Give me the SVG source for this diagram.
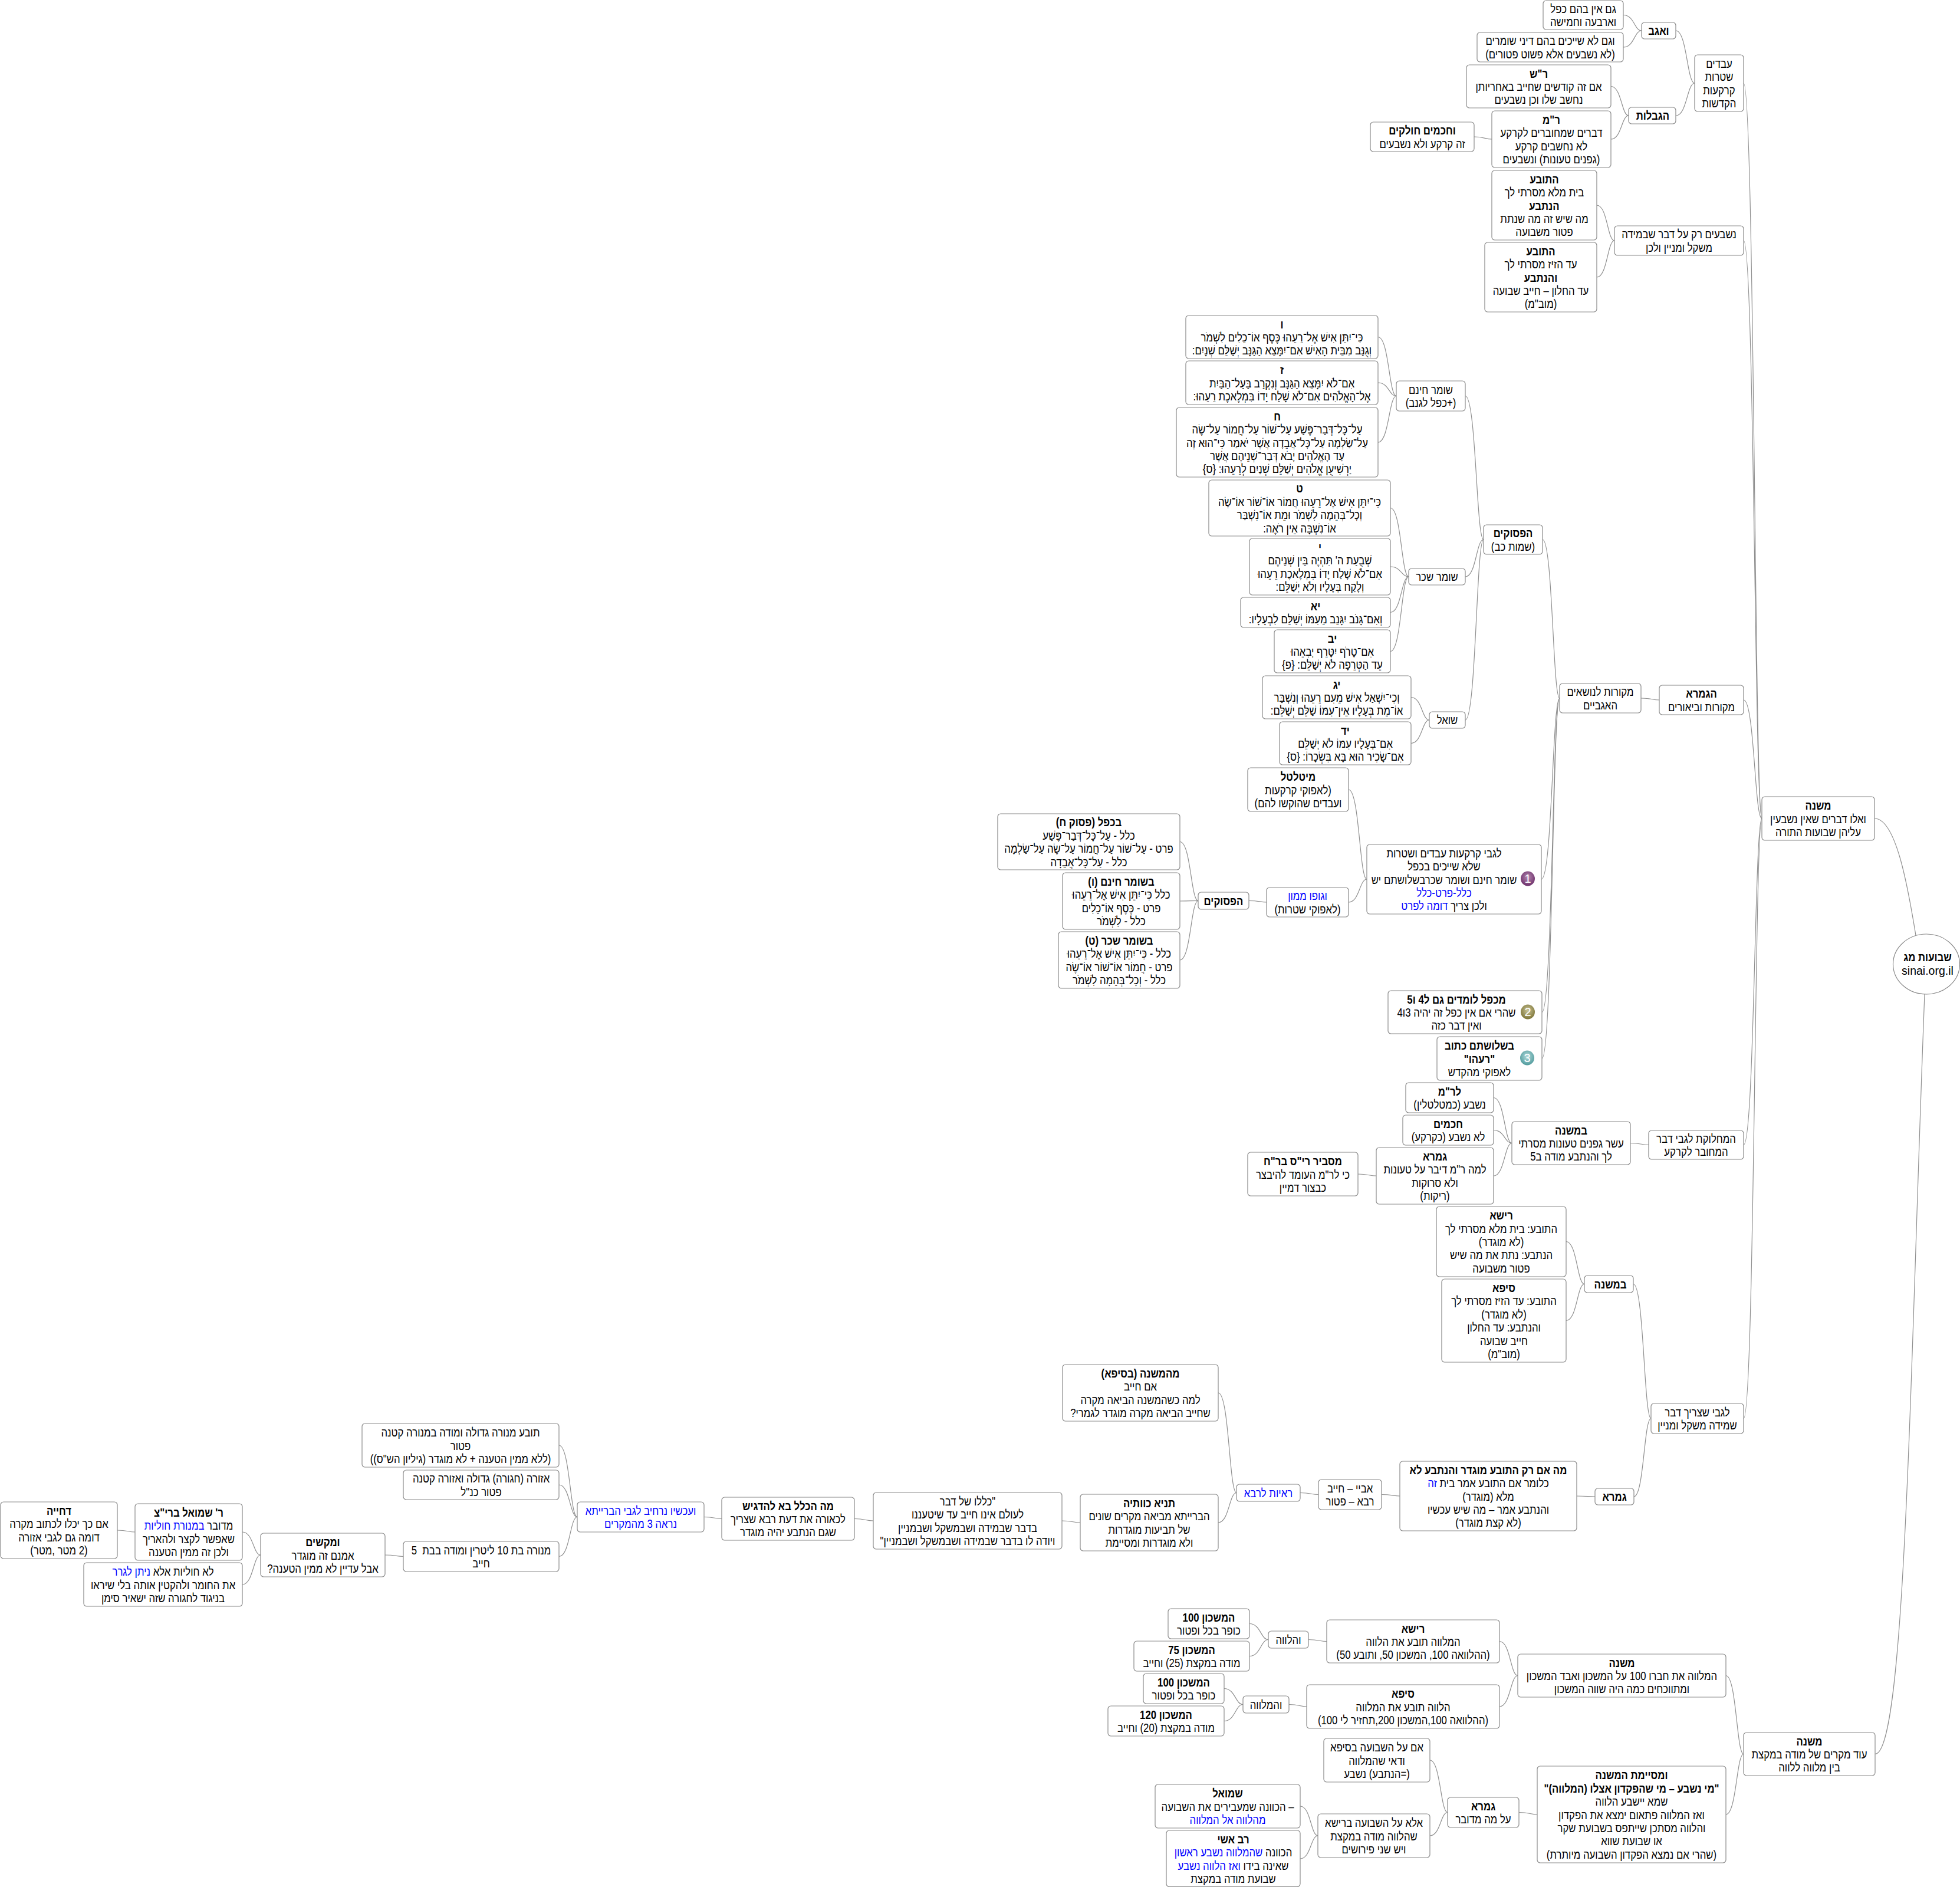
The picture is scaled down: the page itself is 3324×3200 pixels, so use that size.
<svg xmlns="http://www.w3.org/2000/svg" width="3324" height="3200" viewBox="0 0 3324 3200">
<style>
rect.bg{fill:#fff}
.n rect,.n ellipse.o{fill:#fff;stroke:#8a8a8a;stroke-width:1.2}
#c path{fill:none;stroke:#8f8f8f;stroke-width:1.2}
text{font-family:"Liberation Sans",Arial,sans-serif;font-size:19.5px;fill:#000;text-anchor:middle;direction:rtl;transform-box:fill-box;transform-origin:center;transform:scaleX(.86)}
.b{font-weight:bold}
.l{fill:#0000ff}
text.l{fill:#0000ff}
text.e{transform:none}
text.d{fill:#fff;font-size:20px;direction:ltr;transform:none}
</style>
<defs>
<radialGradient id="i1" cx="0.5" cy="0.4" r="0.6"><stop offset="0" stop-color="#b58ab0"/><stop offset="1" stop-color="#6d2f6b"/></radialGradient>
<radialGradient id="i2" cx="0.5" cy="0.4" r="0.6"><stop offset="0" stop-color="#c9c59a"/><stop offset="1" stop-color="#7d7436"/></radialGradient>
<radialGradient id="i3" cx="0.5" cy="0.4" r="0.6"><stop offset="0" stop-color="#b5dcdc"/><stop offset="1" stop-color="#4f9a9c"/></radialGradient>
</defs>
<rect class="bg" width="3324" height="3200"/>
<g id="c">
<path d="M2753 25.5C2771.6 25.5 2771.6 52 2784 52"/>
<path d="M2753 80C2771.6 80 2771.6 52 2784 52"/>
<path d="M2842 52C2861 52 2861 141 2874 141"/>
<path d="M2842 196C2861 196 2861 141 2874 141"/>
<path d="M2732 146.5C2750 146.5 2750 196 2762 196"/>
<path d="M2732 236C2750 236 2750 196 2762 196"/>
<path d="M2500 232C2518 232 2518 236 2530 236"/>
<path d="M2957 141C2975.6 141 2975.6 1388 2988 1388"/>
<path d="M2957 408C2975.6 408 2975.6 1388 2988 1388"/>
<path d="M2708 348C2726 348 2726 408 2738 408"/>
<path d="M2708 470C2726 470 2726 408 2738 408"/>
<path d="M2957 1187C2975.6 1187 2975.6 1388 2988 1388"/>
<path d="M2783 1184C2801.6 1184 2801.6 1187 2814 1187"/>
<path d="M2616 915C2633.4 915 2633.4 1184 2645 1184"/>
<path d="M2614 1491C2632.6 1491 2632.6 1184 2645 1184"/>
<path d="M2615 1716.5C2633 1716.5 2633 1184 2645 1184"/>
<path d="M2615 1795C2633 1795 2633 1184 2645 1184"/>
<path d="M2485 671.5C2503.6 671.5 2503.6 915 2516 915"/>
<path d="M2485 978C2503.6 978 2503.6 915 2516 915"/>
<path d="M2485 1221C2503.6 1221 2503.6 915 2516 915"/>
<path d="M2337 571.5C2355.6 571.5 2355.6 671.5 2368 671.5"/>
<path d="M2337 649C2355.6 649 2355.6 671.5 2368 671.5"/>
<path d="M2337 750C2355.6 750 2355.6 671.5 2368 671.5"/>
<path d="M2358 861.5C2376.6 861.5 2376.6 978 2389 978"/>
<path d="M2358 961C2376.6 961 2376.6 978 2389 978"/>
<path d="M2358 1038.5C2376.6 1038.5 2376.6 978 2389 978"/>
<path d="M2358 1104.5C2376.6 1104.5 2376.6 978 2389 978"/>
<path d="M2393 1182.5C2411.6 1182.5 2411.6 1221 2424 1221"/>
<path d="M2393 1260.5C2411.6 1260.5 2411.6 1221 2424 1221"/>
<path d="M2287 1339C2305.6 1339 2305.6 1491 2318 1491"/>
<path d="M2287 1530C2305.6 1530 2305.6 1491 2318 1491"/>
<path d="M2118 1527.5C2136 1527.5 2136 1530 2148 1530"/>
<path d="M2001 1427.5C2019.6 1427.5 2019.6 1527.5 2032 1527.5"/>
<path d="M2001 1528C2019.6 1528 2019.6 1527.5 2032 1527.5"/>
<path d="M2001 1628C2019.6 1628 2019.6 1527.5 2032 1527.5"/>
<path d="M2957 1941.5C2975.6 1941.5 2975.6 1388 2988 1388"/>
<path d="M2765 1938.5C2783.6 1938.5 2783.6 1941.5 2796 1941.5"/>
<path d="M2533 1861.5C2551.6 1861.5 2551.6 1938.5 2564 1938.5"/>
<path d="M2533 1916.5C2551.6 1916.5 2551.6 1938.5 2564 1938.5"/>
<path d="M2533 1994C2551.6 1994 2551.6 1938.5 2564 1938.5"/>
<path d="M2303 1991C2321.6 1991 2321.6 1994 2334 1994"/>
<path d="M2957 2405.5C2975.6 2405.5 2975.6 1388 2988 1388"/>
<path d="M2770 2177.5C2788 2177.5 2788 2405.5 2800 2405.5"/>
<path d="M2771 2538C2788 2538 2788 2405.5 2800 2405.5"/>
<path d="M2656 2105.5C2674.6 2105.5 2674.6 2177.5 2687 2177.5"/>
<path d="M2656 2239.5C2674.6 2239.5 2674.6 2177.5 2687 2177.5"/>
<path d="M2674 2537C2692.6 2537 2692.6 2538 2705 2538"/>
<path d="M2343 2534.5C2361.6 2534.5 2361.6 2537 2374 2537"/>
<path d="M2205 2531.5C2223.6 2531.5 2223.6 2534.5 2236 2534.5"/>
<path d="M2066 2362C2084.6 2362 2084.6 2531.5 2097 2531.5"/>
<path d="M2066 2582C2084.6 2582 2084.6 2531.5 2097 2531.5"/>
<path d="M1801 2579C1819.6 2579 1819.6 2582 1832 2582"/>
<path d="M1449 2575.5C1468 2575.5 1468 2579 1481 2579"/>
<path d="M1194 2572.5C1212 2572.5 1212 2575.5 1224 2575.5"/>
<path d="M948 2451C966.6 2451 966.6 2572.5 979 2572.5"/>
<path d="M948 2518C966.6 2518 966.6 2572.5 979 2572.5"/>
<path d="M948 2639.5C966.6 2639.5 966.6 2572.5 979 2572.5"/>
<path d="M653 2637C671.6 2637 671.6 2639.5 684 2639.5"/>
<path d="M411 2598C429.6 2598 429.6 2637 442 2637"/>
<path d="M411 2687C429.6 2687 429.6 2637 442 2637"/>
<path d="M199 2595C217 2595 217 2598 229 2598"/>
<path d="M2927 2841.5C2945 2841.5 2945 2974.5 2957 2974.5"/>
<path d="M2927 3077C2945 3077 2945 2974.5 2957 2974.5"/>
<path d="M2543 2783.5C2561.6 2783.5 2561.6 2841.5 2574 2841.5"/>
<path d="M2543 2894C2561.6 2894 2561.6 2841.5 2574 2841.5"/>
<path d="M2219 2780.5C2237.6 2780.5 2237.6 2783.5 2250 2783.5"/>
<path d="M2119 2753.5C2138 2753.5 2138 2780.5 2151 2780.5"/>
<path d="M2119 2808.5C2138 2808.5 2138 2780.5 2151 2780.5"/>
<path d="M2186 2890.5C2204 2890.5 2204 2894 2216 2894"/>
<path d="M2076 2863.5C2095 2863.5 2095 2890.5 2108 2890.5"/>
<path d="M2076 2918.5C2095 2918.5 2095 2890.5 2108 2890.5"/>
<path d="M2576 3073.5C2594.6 3073.5 2594.6 3077 2607 3077"/>
<path d="M2425 2985C2443 2985 2443 3073.5 2455 3073.5"/>
<path d="M2425 3113C2443 3113 2443 3073.5 2455 3073.5"/>
<path d="M2205 3063C2223 3063 2223 3113 2235 3113"/>
<path d="M2205 3152C2223 3152 2223 3113 2235 3113"/>
<path d="M3179 1388C3215 1388 3235 1500 3249 1586"/>
<path d="M3180 2974.5C3232 2974.5 3240 2300 3264 1686"/>
</g>
<g id="root" class="n"><ellipse class="o" cx="3267" cy="1635" rx="56.5" ry="51"/><text class="b" x="3269" y="1630">שבועות מג</text><text class="e" x="3269" y="1653">sinai.org.il</text></g>
<g id="m1" class="n"><rect x="2988" y="1351" width="191" height="74" rx="5"/><g transform="translate(3083.5 1388)"><text class="b" y="-15">משנה</text><text y="7.5">ואלו דברים שאין נשבעין</text><text y="30">עליהן שבועות התורה</text></g></g>
<g id="a8" class="n"><rect x="2874" y="93" width="83" height="96" rx="5"/><g transform="translate(2915.5 141)"><text y="-26.25">עבדים</text><text y="-3.75">שטרות</text><text y="18.75">קרקעות</text><text y="41.25">הקדשות</text></g></g>
<g id="a3" class="n"><rect x="2784" y="38" width="58" height="28" rx="5"/><text class="b" x="2813" y="59.5">ואגב</text></g>
<g id="a1" class="n"><rect x="2617" y="1" width="136" height="49" rx="5"/><g transform="translate(2685 25.5)"><text y="-3.75">גם אין בהם כפל</text><text y="18.75">וארבעה וחמישה</text></g></g>
<g id="a2" class="n"><rect x="2505" y="55" width="248" height="50" rx="5"/><g transform="translate(2629 80)"><text y="-3.75">וגם לא שייכים בהם דיני שומרים</text><text y="18.75">(לא נשבעים אלא פשוט פטורים)</text></g></g>
<g id="a7" class="n"><rect x="2762" y="182" width="80" height="28" rx="5"/><text class="b" x="2803" y="203.5">הגבלות</text></g>
<g id="a4" class="n"><rect x="2487" y="110" width="245" height="73" rx="5"/><g transform="translate(2609.5 146.5)"><text class="b" y="-15">ר"ש</text><text y="7.5">אם זה קודשים שחייב באחריותן</text><text y="30">נחשב שלו וכן נשבעים</text></g></g>
<g id="a5" class="n"><rect x="2530" y="188" width="202" height="96" rx="5"/><g transform="translate(2631 236)"><text class="b" y="-26.25">ר"מ</text><text y="-3.75">דברים שמחוברים לקרקע</text><text y="18.75">לא נחשבים קרקע</text><text y="41.25">(גפנים טעונות) ונשבעים</text></g></g>
<g id="a6" class="n"><rect x="2324" y="207" width="176" height="50" rx="5"/><g transform="translate(2412 232)"><text class="b" y="-3.75">וחכמים חולקים</text><text y="18.75">זה קרקע ולא נשבעים</text></g></g>
<g id="a11" class="n"><rect x="2738" y="383" width="219" height="50" rx="5"/><g transform="translate(2847.5 408)"><text y="-3.75">נשבעים רק על דבר שבמידה</text><text y="18.75">משקל ומניין ולכן</text></g></g>
<g id="a9" class="n"><rect x="2530" y="289" width="178" height="118" rx="5"/><g transform="translate(2619 348)"><text class="b" y="-37.5">התובע</text><text y="-15">בית מלא מסרתי לך</text><text class="b" y="7.5">הנתבע</text><text y="30">מה שיש זה מה שנתת</text><text y="52.5">פטור משבועה</text></g></g>
<g id="a10" class="n"><rect x="2518" y="411" width="190" height="118" rx="5"/><g transform="translate(2613 470)"><text class="b" y="-37.5">התובע</text><text y="-15">עד הזיז מסרתי לך</text><text class="b" y="7.5">והנתבע</text><text y="30">עד החלון – חייב שבועה</text><text y="52.5">(מוב"מ)</text></g></g>
<g id="gemara" class="n"><rect x="2814" y="1162" width="143" height="50" rx="5"/><g transform="translate(2885.5 1187)"><text class="b" y="-3.75">הגמרא</text><text y="18.75">מקורות וביאורים</text></g></g>
<g id="mekorot" class="n"><rect x="2645" y="1159" width="138" height="50" rx="5"/><g transform="translate(2714 1184)"><text y="-3.75">מקורות לנושאים</text><text y="18.75">האגביים</text></g></g>
<g id="psukim" class="n"><rect x="2516" y="890" width="100" height="50" rx="5"/><g transform="translate(2566 915)"><text class="b" y="-3.75">הפסוקים</text><text y="18.75">(שמות כב)</text></g></g>
<g id="sh1" class="n"><rect x="2368" y="646" width="117" height="51" rx="5"/><g transform="translate(2426.5 671.5)"><text y="-3.75">שומר חינם</text><text y="18.75">(+כפל לגנב)</text></g></g>
<g id="v6" class="n"><rect x="2011" y="535" width="326" height="73" rx="5"/><g transform="translate(2174 571.5)"><text class="b" y="-15">ו</text><text y="7.5">כִּי־יִתֵּן אִישׁ אֶל־רֵעֵהוּ כֶּסֶף אוֹ־כֵלִים לִשְׁמֹר</text><text y="30">וְגֻנַּב מִבֵּית הָאִישׁ אִם־יִמָּצֵא הַגַּנָּב יְשַׁלֵּם שְׁנָיִם:</text></g></g>
<g id="v7" class="n"><rect x="2011" y="612" width="326" height="74" rx="5"/><g transform="translate(2174 649)"><text class="b" y="-15">ז</text><text y="7.5">אִם־לֹא יִמָּצֵא הַגַּנָּב וְנִקְרַב בַּעַל־הַבַּיִת</text><text y="30">אֶל־הָאֱלֹהִים אִם־לֹא שָׁלַח יָדוֹ בִּמְלֶאכֶת רֵעֵהוּ:</text></g></g>
<g id="v8" class="n"><rect x="1995" y="691" width="342" height="118" rx="5"/><g transform="translate(2166 750)"><text class="b" y="-37.5">ח</text><text y="-15">עַל־כָּל־דְּבַר־פֶּשַׁע עַל־שׁוֹר עַל־חֲמוֹר עַל־שֶׂה</text><text y="7.5">עַל־שַׂלְמָה עַל־כָּל־אֲבֵדָה אֲשֶׁר יֹאמַר כִּי־הוּא זֶה</text><text y="30">עַד הָאֱלֹהִים יָבֹא דְּבַר־שְׁנֵיהֶם אֲשֶׁר</text><text y="52.5">יַרְשִׁיעֻן אֱלֹהִים יְשַׁלֵּם שְׁנַיִם לְרֵעֵהוּ: {ס}</text></g></g>
<g id="sh2" class="n"><rect x="2389" y="964" width="96" height="28" rx="5"/><text x="2437" y="985.5">שומר שכר</text></g>
<g id="v9" class="n"><rect x="2050" y="814" width="308" height="95" rx="5"/><g transform="translate(2204 861.5)"><text class="b" y="-26.25">ט</text><text y="-3.75">כִּי־יִתֵּן אִישׁ אֶל־רֵעֵהוּ חֲמוֹר אוֹ־שׁוֹר אוֹ־שֶׂה</text><text y="18.75">וְכָל־בְּהֵמָה לִשְׁמֹר וּמֵת אוֹ־נִשְׁבַּר</text><text y="41.25">אוֹ־נִשְׁבָּה אֵין רֹאֶה:</text></g></g>
<g id="v10" class="n"><rect x="2119" y="913" width="239" height="96" rx="5"/><g transform="translate(2238.5 961)"><text class="b" y="-26.25">י</text><text y="-3.75">שְׁבֻעַת ה' תִּהְיֶה בֵּין שְׁנֵיהֶם</text><text y="18.75">אִם־לֹא שָׁלַח יָדוֹ בִּמְלֶאכֶת רֵעֵהוּ</text><text y="41.25">וְלָקַח בְּעָלָיו וְלֹא יְשַׁלֵּם:</text></g></g>
<g id="v11" class="n"><rect x="2104" y="1013" width="254" height="51" rx="5"/><g transform="translate(2231 1038.5)"><text class="b" y="-3.75">יא</text><text y="18.75">וְאִם־גָּנֹב יִגָּנֵב מֵעִמּוֹ יְשַׁלֵּם לִבְעָלָיו:</text></g></g>
<g id="v12" class="n"><rect x="2161" y="1068" width="197" height="73" rx="5"/><g transform="translate(2259.5 1104.5)"><text class="b" y="-15">יב</text><text y="7.5">אִם־טָרֹף יִטָּרֵף יְבִאֵהוּ</text><text y="30">עֵד הַטְּרֵפָה לֹא יְשַׁלֵּם: {פ}</text></g></g>
<g id="sh3" class="n"><rect x="2424" y="1207" width="61" height="28" rx="5"/><text x="2454.5" y="1228.5">שואל</text></g>
<g id="v13" class="n"><rect x="2141" y="1146" width="252" height="73" rx="5"/><g transform="translate(2267 1182.5)"><text class="b" y="-15">יג</text><text y="7.5">וְכִי־יִשְׁאַל אִישׁ מֵעִם רֵעֵהוּ וְנִשְׁבַּר</text><text y="30">אוֹ־מֵת בְּעָלָיו אֵין־עִמּוֹ שַׁלֵּם יְשַׁלֵּם:</text></g></g>
<g id="v14" class="n"><rect x="2170" y="1224" width="223" height="73" rx="5"/><g transform="translate(2281.5 1260.5)"><text class="b" y="-15">יד</text><text y="7.5">אִם־בְּעָלָיו עִמּוֹ לֹא יְשַׁלֵּם</text><text y="30">אִם־שָׂכִיר הוּא בָּא בִּשְׂכָרוֹ: {ס}</text></g></g>
<g id="kar" class="n"><rect x="2318" y="1432" width="296" height="118" rx="5"/><ellipse cx="2591" cy="1490" rx="12" ry="12.5" fill="url(#i1)"/><text class="d" x="2591" y="1497">1</text><g transform="translate(2449 1491)"><text y="-37.5">לגבי קרקעות עבדים ושטרות</text><text y="-15">שלא שייכים בכפל</text><text y="7.5">שומר חינם ושומר שכרבשלושתם יש</text><text y="30" class="l">כלל-פרט-כלל</text><text y="52.5">ולכן צריך <tspan class="l">דומה לפרט</tspan></text></g></g>
<g id="mit" class="n"><rect x="2116" y="1302" width="171" height="74" rx="5"/><g transform="translate(2201.5 1339)"><text class="b" y="-15">מיטלטל</text><text y="7.5">(לאפוקי קרקעות</text><text y="30">ועבדים שהוקשו להם)</text></g></g>
<g id="guf" class="n"><rect x="2148" y="1505" width="139" height="50" rx="5"/><g transform="translate(2217.5 1530)"><text class="l" y="-3.75">וגופו ממון</text><text y="18.75">(לאפוקי שטרות)</text></g></g>
<g id="ps2" class="n"><rect x="2032" y="1513" width="86" height="29" rx="5"/><text class="b" x="2075" y="1535">הפסוקים</text></g>
<g id="k1" class="n"><rect x="1692" y="1380" width="309" height="95" rx="5"/><g transform="translate(1846.5 1427.5)"><text class="b" y="-26.25">בכפל (פסוק ח)</text><text y="-3.75">כלל - עַל־כָּל־דְּבַר־פֶּשַׁע</text><text y="18.75">פרט - עַל־שׁוֹר עַל־חֲמוֹר עַל־שֶׂה עַל־שַׂלְמָה</text><text y="41.25">כלל - עַל־כָּל־אֲבֵדָה</text></g></g>
<g id="k2" class="n"><rect x="1802" y="1480" width="199" height="96" rx="5"/><g transform="translate(1901.5 1528)"><text class="b" y="-26.25">בשומר חינם (ו)</text><text y="-3.75">כלל  כִּי־יִתֵּן אִישׁ אֶל־רֵעֵהוּ</text><text y="18.75">פרט - כֶּסֶף אוֹ־כֵלִים</text><text y="41.25">כלל - לִשְׁמֹר</text></g></g>
<g id="k3" class="n"><rect x="1795" y="1580" width="206" height="96" rx="5"/><g transform="translate(1898 1628)"><text class="b" y="-26.25">בשומר שכר (ט)</text><text y="-3.75">כלל - כִּי־יִתֵּן אִישׁ אֶל־רֵעֵהוּ</text><text y="18.75">פרט - חֲמוֹר אוֹ־שׁוֹר אוֹ־שֶׂה</text><text y="41.25">כלל - וְכָל־בְּהֵמָה לִשְׁמֹר</text></g></g>
<g id="kaf" class="n"><rect x="2354" y="1680" width="261" height="73" rx="5"/><ellipse cx="2591" cy="1716" rx="12" ry="12.5" fill="url(#i2)"/><text class="d" x="2591" y="1723">2</text><g transform="translate(2470 1716.5)"><text class="b" y="-15">מכפל לומדים גם ל4 ו5</text><text y="7.5">שהרי אם אין כפל זה יהיה 3ו4</text><text y="30">ואין דבר כזה</text></g></g>
<g id="sh" class="n"><rect x="2437" y="1758" width="178" height="74" rx="5"/><ellipse cx="2590" cy="1794" rx="12" ry="12.5" fill="url(#i3)"/><text class="d" x="2590" y="1801">3</text><g transform="translate(2509 1795)"><text class="b" y="-15">בשלושתם כתוב</text><text class="b" y="7.5">"רעהו"</text><text y="30">לאפוקי מהקדש</text></g></g>
<g id="mah" class="n"><rect x="2796" y="1917" width="161" height="49" rx="5"/><g transform="translate(2876.5 1941.5)"><text y="-3.75">המחלוקת לגבי דבר</text><text y="18.75">המחובר לקרקע</text></g></g>
<g id="bm" class="n"><rect x="2564" y="1902" width="201" height="73" rx="5"/><g transform="translate(2664.5 1938.5)"><text class="b" y="-15">במשנה</text><text y="7.5">עשר גפנים טעונות מסרתי</text><text y="30">לך והנתבע מודה ב5</text></g></g>
<g id="lrm" class="n"><rect x="2384" y="1836" width="149" height="51" rx="5"/><g transform="translate(2458.5 1861.5)"><text class="b" y="-3.75">לר"מ</text><text y="18.75">נשבע (כמטלטלין)</text></g></g>
<g id="hach" class="n"><rect x="2379" y="1891" width="154" height="51" rx="5"/><g transform="translate(2456 1916.5)"><text class="b" y="-3.75">חכמים</text><text y="18.75">לא נשבע (כקרקע)</text></g></g>
<g id="gm" class="n"><rect x="2334" y="1946" width="199" height="96" rx="5"/><g transform="translate(2433.5 1994)"><text class="b" y="-26.25">גמרא</text><text y="-3.75">למה ר"מ דיבר על טעונות</text><text y="18.75">ולא סרוקות</text><text y="41.25">(ריקות)</text></g></g>
<g id="mas" class="n"><rect x="2116" y="1954" width="187" height="74" rx="5"/><g transform="translate(2209.5 1991)"><text class="b" y="-15">מסביר רי"ס בר"ח</text><text y="7.5">כי לר"מ העומד להיבצר</text><text y="30">כבצור דמיין</text></g></g>
<g id="lg" class="n"><rect x="2800" y="2380" width="157" height="51" rx="5"/><g transform="translate(2878.5 2405.5)"><text y="-3.75">לגבי שצריך דבר</text><text y="18.75">שמידה משקל ומניין</text></g></g>
<g id="bm2" class="n"><rect x="2687" y="2163" width="83" height="29" rx="5"/><text class="b" x="2731" y="2185">במשנה</text></g>
<g id="r1" class="n"><rect x="2436" y="2046" width="220" height="119" rx="5"/><g transform="translate(2546 2105.5)"><text class="b" y="-37.5">רישא</text><text y="-15">התובע: בית מלא מסרתי לך</text><text y="7.5">(לא מוגדר)</text><text y="30">הנתבע: נתת את מה שיש</text><text y="52.5">פטור משבועה</text></g></g>
<g id="s1" class="n"><rect x="2445" y="2169" width="211" height="141" rx="5"/><g transform="translate(2550.5 2239.5)"><text class="b" y="-48.75">סיפא</text><text y="-26.25">התובע: עד הזיז מסרתי לך</text><text y="-3.75">(לא מוגדר)</text><text y="18.75">והנתבע: עד החלון</text><text y="41.25">חייב שבועה</text><text y="63.75">(מוב"מ)</text></g></g>
<g id="gm2" class="n"><rect x="2705" y="2524" width="66" height="28" rx="5"/><text class="b" x="2738" y="2545.5">גמרא</text></g>
<g id="ma" class="n"><rect x="2374" y="2478" width="300" height="118" rx="5"/><g transform="translate(2524 2537)"><text class="b" y="-37.5">מה אם רק התובע מוגדר והנתבע לא</text><text y="-15">כלומר אם התובע אמר בית <tspan class="l">זה</tspan></text><text y="7.5">מלא (מוגדר)</text><text y="30">והנתבע אמר – מה שיש עכשיו</text><text y="52.5">(לא קצת מוגדר)</text></g></g>
<g id="ab" class="n"><rect x="2236" y="2509" width="107" height="51" rx="5"/><g transform="translate(2289.5 2534.5)"><text y="-3.75">אביי – חייב</text><text y="18.75">רבא – פטור</text></g></g>
<g id="ray" class="n"><rect x="2097" y="2517" width="108" height="29" rx="5"/><text class="l" x="2151" y="2539">ראיות לרבא</text></g>
<g id="mm" class="n"><rect x="1802" y="2314" width="264" height="96" rx="5"/><g transform="translate(1934 2362)"><text class="b" y="-26.25">מהמשנה (בסיפא)</text><text y="-3.75">אם חייב</text><text y="18.75">למה כשהמשנה הביאה מקרה</text><text y="41.25">שחייב הביאה מקרה מוגדר לגמרי?</text></g></g>
<g id="tk" class="n"><rect x="1832" y="2534" width="234" height="96" rx="5"/><g transform="translate(1949 2582)"><text class="b" y="-26.25">תניא כוותיה</text><text y="-3.75">הברייתא מביאה מקרים שונים</text><text y="18.75">של תביעות מוגדרות</text><text y="41.25">ולא מוגדרות ומסיימת</text></g></g>
<g id="kl" class="n"><rect x="1481" y="2531" width="320" height="96" rx="5"/><g transform="translate(1641 2579)"><text y="-26.25">"כללו של דבר</text><text y="-3.75">לעולם אינו חייב עד שיטעננו</text><text y="18.75">בדבר שבמידה ושבמשקל ושבמניין</text><text y="41.25">ויודה לו בדבר שבמידה ושבמשקל ושבמניין"</text></g></g>
<g id="mk" class="n"><rect x="1224" y="2539" width="225" height="73" rx="5"/><g transform="translate(1336.5 2575.5)"><text class="b" y="-15">מה הכלל בא להדגיש</text><text y="7.5">לכאורה את דעת רבא שצריך</text><text y="30">שגם הנתבע יהיה מוגדר</text></g></g>
<g id="ve" class="n"><rect x="979" y="2547" width="215" height="51" rx="5"/><g transform="translate(1086.5 2572.5)"><text class="l" y="-3.75">ועכשיו נרחיב לגבי הברייתא</text><text class="l" y="18.75">נראה 3 מהמקרים</text></g></g>
<g id="t1" class="n"><rect x="614" y="2414" width="334" height="74" rx="5"/><g transform="translate(781 2451)"><text y="-15">תובע מנורה גדולה ומודה במנורה קטנה</text><text y="7.5">פטור</text><text y="30">(ללא ממין הטענה + לא מוגדר (גיליון הש"ס))</text></g></g>
<g id="t2" class="n"><rect x="684" y="2493" width="264" height="50" rx="5"/><g transform="translate(816 2518)"><text y="-3.75">אזורה (חגורה) גדולה ואזורה קטנה</text><text y="18.75">פטור כנ"ל</text></g></g>
<g id="t3" class="n"><rect x="684" y="2614" width="264" height="51" rx="5"/><g transform="translate(816 2639.5)"><text y="-3.75" xml:space="preserve">מנורה בת 10 ליטרין ומודה בבת  5</text><text y="18.75">חייב</text></g></g>
<g id="um" class="n"><rect x="442" y="2600" width="211" height="74" rx="5"/><g transform="translate(547.5 2637)"><text class="b" y="-15">ומקשים</text><text y="7.5">אמנם זה מוגדר</text><text y="30">אבל עדיין לא ממין הטענה?</text></g></g>
<g id="rs" class="n"><rect x="229" y="2550" width="182" height="96" rx="5"/><g transform="translate(320 2598)"><text class="b" y="-26.25">ר' שמואל ברי"צ</text><text y="-3.75">מדובר <tspan class="l">במנורת חוליות</tspan></text><text y="18.75">שאפשר לקצר ולהאריך</text><text y="41.25">ולכן זה ממין הטענה</text></g></g>
<g id="lh" class="n"><rect x="142" y="2650" width="269" height="74" rx="5"/><g transform="translate(276.5 2687)"><text y="-15">לא חוליות אלא <tspan class="l">ניתן לגרר</tspan></text><text y="7.5">את החומר ולהקטין אותה בלי שיראו</text><text y="30">בניגוד לחגורה שזה ישאיר סימן</text></g></g>
<g id="dh" class="n"><rect x="1" y="2547" width="198" height="96" rx="5"/><g transform="translate(100 2595)"><text class="b" y="-26.25">דחייה</text><text y="-3.75">אם כך יכלו לכתוב מקרה</text><text y="18.75">דומה גם לגבי אזורה</text><text y="41.25">(2 מטר ,מטר)</text></g></g>
<g id="m2" class="n"><rect x="2957" y="2938" width="223" height="73" rx="5"/><g transform="translate(3068.5 2974.5)"><text class="b" y="-15">משנה</text><text y="7.5">עוד מקרים של מודה במקצת</text><text y="30">בין מלווה ללווה</text></g></g>
<g id="m3" class="n"><rect x="2574" y="2805" width="353" height="73" rx="5"/><g transform="translate(2750.5 2841.5)"><text class="b" y="-15">משנה</text><text y="7.5">המלווה את חברו 100 על המשכון ואבד המשכון</text><text y="30">ומתווכחים כמה היה שווה המשכון</text></g></g>
<g id="r3" class="n"><rect x="2250" y="2747" width="293" height="73" rx="5"/><g transform="translate(2396.5 2783.5)"><text class="b" y="-15">רישא</text><text y="7.5">המלווה תובע את הלווה</text><text y="30">(ההלוואה 100, המשכון 50, ותובע 50)</text></g></g>
<g id="hl" class="n"><rect x="2151" y="2766" width="68" height="29" rx="5"/><text x="2185" y="2788">והלווה</text></g>
<g id="p100" class="n"><rect x="1981" y="2728" width="138" height="51" rx="5"/><g transform="translate(2050 2753.5)"><text class="b" y="-3.75">המשכון 100</text><text y="18.75">כופר בכל ופטור</text></g></g>
<g id="p75" class="n"><rect x="1923" y="2783" width="196" height="51" rx="5"/><g transform="translate(2021 2808.5)"><text class="b" y="-3.75">המשכון 75</text><text y="18.75">מודה במקצת (25) וחייב</text></g></g>
<g id="s3" class="n"><rect x="2216" y="2857" width="327" height="74" rx="5"/><g transform="translate(2379.5 2894)"><text class="b" y="-15">סיפא</text><text y="7.5">הלווה תובע את המלווה</text><text y="30">(ההלוואה 100,המשכון 200,תחזיר לי 100)</text></g></g>
<g id="hm" class="n"><rect x="2108" y="2876" width="78" height="29" rx="5"/><text x="2147" y="2898">והמלווה</text></g>
<g id="q100" class="n"><rect x="1939" y="2838" width="137" height="51" rx="5"/><g transform="translate(2007.5 2863.5)"><text class="b" y="-3.75">המשכון 100</text><text y="18.75">כופר בכל ופטור</text></g></g>
<g id="q120" class="n"><rect x="1879" y="2893" width="197" height="51" rx="5"/><g transform="translate(1977.5 2918.5)"><text class="b" y="-3.75">המשכון 120</text><text y="18.75">מודה במקצת (20) וחייב</text></g></g>
<g id="um2" class="n"><rect x="2607" y="2995" width="320" height="164" rx="5"/><g transform="translate(2767 3077)"><text class="b" y="-60">ומסיימת המשנה</text><text class="b" y="-37.5">"מי נשבע – מי שהפקדון אצלו (המלווה)"</text><text y="-15">שמא יישבע הלווה</text><text y="7.5">ואז המלווה פתאום ימצא את הפקדון</text><text y="30">והלווה מסתכן שייתפס בשבועת שקר</text><text y="52.5">או שבועת שווא</text><text y="75">(שהרי אם נמצא הפקדון השבועה מיותרת)</text></g></g>
<g id="gm3" class="n"><rect x="2455" y="3048" width="121" height="51" rx="5"/><g transform="translate(2515.5 3073.5)"><text class="b" y="-3.75">גמרא</text><text y="18.75">על מה מדובר</text></g></g>
<g id="ae" class="n"><rect x="2245" y="2948" width="180" height="74" rx="5"/><g transform="translate(2335 2985)"><text y="-15">אם על השבועה בסיפא</text><text y="7.5">ודאי שהמלווה</text><text y="30">(=הנתבע) נשבע</text></g></g>
<g id="ee" class="n"><rect x="2235" y="3076" width="190" height="74" rx="5"/><g transform="translate(2330 3113)"><text y="-15">אלא על השבועה ברישא</text><text y="7.5">שהלווה מודה במקצת</text><text y="30">ויש שני פירושים</text></g></g>
<g id="sm" class="n"><rect x="1959" y="3026" width="246" height="74" rx="5"/><g transform="translate(2082 3063)"><text class="b" y="-15">שמואל</text><text y="7.5">– הכוונה שמעבירים את השבועה</text><text class="l" y="30">מהלווה אל המלווה</text></g></g>
<g id="ra" class="n"><rect x="1978" y="3104" width="227" height="95.5" rx="5"/><g transform="translate(2091.5 3152)"><text class="b" y="-26.25">רב אשי</text><text y="-3.75">הכוונה <tspan class="l">שהמלווה נשבע ראשון</tspan></text><text y="18.75">שאינה בידו <tspan class="l">ואז הלווה נשבע</tspan></text><text y="41.25">שבועת מודה במקצת</text></g></g>
</svg>
